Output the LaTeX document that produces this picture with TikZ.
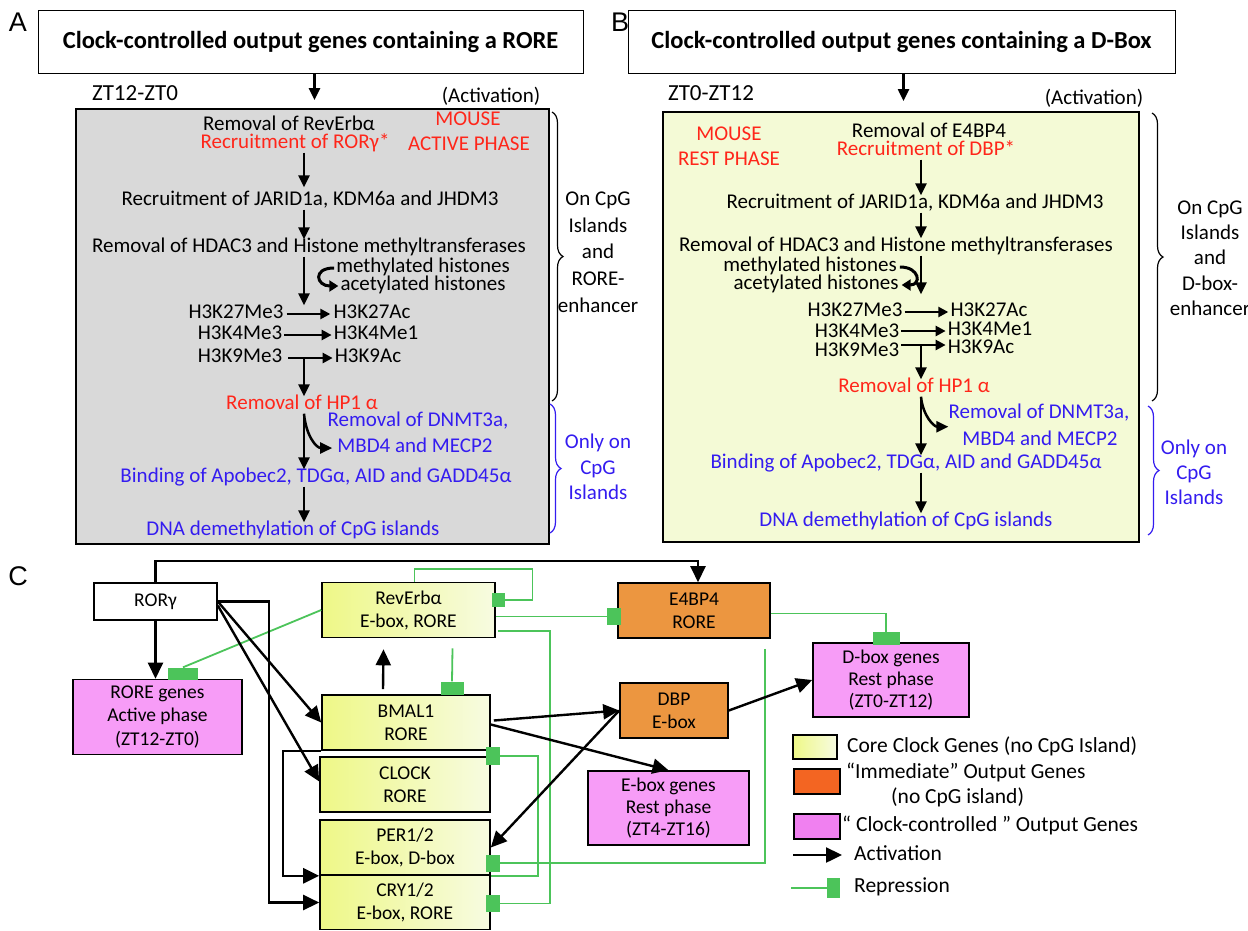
\documentclass[tikz,border=0pt]{standalone}
\usepackage{fontspec}
\setmainfont{Carlito}
\newfontfamily\arialf{Liberation Sans}
\usetikzlibrary{arrows.meta,calc,decorations.pathreplacing}
\definecolor{grayfill}{RGB}{217,217,217}
\definecolor{ygfill}{RGB}{244,250,214}
\definecolor{ylA}{RGB}{238,248,135}
\definecolor{ylB}{RGB}{247,251,225}
\definecolor{orfill}{RGB}{236,150,64}
\definecolor{pkfill}{RGB}{247,156,247}
\definecolor{gline}{RGB}{76,196,90}
\definecolor{redt}{RGB}{255,38,26}
\definecolor{bluet}{RGB}{52,28,240}
\definecolor{legor}{RGB}{243,101,34}
\definecolor{legpk}{RGB}{240,128,240}
\begin{document}
\begin{tikzpicture}[x=1pt,y=-1pt,
  ptxt/.style={font=\fontsize{21}{25}\selectfont, inner sep=0pt, text height=13pt, text depth=4pt},
  rtxt/.style={ptxt, text=redt},
  btxt/.style={ptxt, text=bluet},
  parr/.style={line width=2.5pt, -{Triangle[length=12pt,width=11pt]}},
  harr/.style={line width=2.4pt, -{Triangle[length=10pt,width=10pt]}},
  carr/.style={line width=3pt, -{Triangle[length=9pt,width=11pt]}},
  cbox/.style={draw, line width=1.6pt, align=center, inner sep=0pt, font=\fontsize{19.5}{23}\selectfont},
  ybox/.style={cbox, left color=ylA, right color=ylB},
  obox/.style={cbox, fill=orfill},
  pbox/.style={cbox, fill=pkfill},
  grn/.style={draw=gline, line width=1.8pt},
  gblk/.style={fill=gline, inner sep=0pt, draw=none},
  carrow/.style={line width=2.4pt, -{Triangle[length=16pt,width=15pt]}},
  ltxt/.style={font=\fontsize{21.5}{25}\selectfont, inner sep=0pt, anchor=west},
  brc/.style={decorate, decoration={brace, amplitude=11pt}, line width=1.2pt},
  ttl/.style={draw, line width=0.8pt, inner sep=0pt, font=\bfseries\fontsize{24.5}{28}\selectfont},
  plet/.style={font=\arialf\fontsize{27}{30}\selectfont, inner sep=0pt},
]
\useasboundingbox (0,0) rectangle (1248,930);
\fill[white] (0,0) rectangle (1248,930);

% ================= Panel A =================
\node[plet] (lA) at (18,22) {A};
\node[ttl, minimum width=545, minimum height=63] (tA) at (310.5,41.5) {Clock-controlled output genes containing a RORE};
\node[draw, line width=2pt, fill=grayfill, minimum width=473, minimum height=435, inner sep=0pt] (bA) at (312.5,326.5) {};
\draw[parr, shorten >=8pt] ([xshift=4pt]tA.south) -- ([xshift=4pt]tA.south |- bA.north);
\node[ptxt, font=\fontsize{23}{26}\selectfont] (zA) at (135,96) {ZT12-ZT0};
\node[ptxt] (actA) at (491,98) {(Activation)};
\coordinate (ax) at (304,0);
\node[ptxt] (a1) at (289,126) {Removal of RevErbα};
\node[rtxt] (a2) at (295,144) {Recruitment of RORγ*};
\node[rtxt] (amo) at (468,121) {MOUSE};
\node[rtxt] (aac) at (469,146) {ACTIVE PHASE};
\node[ptxt] (a3) at (310,201) {Recruitment of JARID1a, KDM6a and JHDM3};
\node[ptxt] (a4) at (309,248) {Removal of HDAC3 and Histone methyltransferases};
\node[ptxt] (a5) at (423,268) {methylated histones};
\node[ptxt] (a6) at (423,286) {acetylated histones};
\node[ptxt] (h1) at (236,314) {H3K27Me3};
\node[ptxt] (h1b) at (372,314) {H3K27Ac};
\node[ptxt] (h2) at (240,335) {H3K4Me3};
\node[ptxt] (h2b) at (376,335) {H3K4Me1};
\node[ptxt] (h3) at (240,358) {H3K9Me3};
\node[ptxt] (h3b) at (368,358) {H3K9Ac};
\node[rtxt] (a7) at (302,405) {Removal of HP1 α};
\node[btxt] (a8) at (418,422) {Removal of DNMT3a,};
\node[btxt] (a9) at (415,448) {MBD4 and MECP2};
\node[btxt] (a10) at (316,478) {Binding of Apobec2, TDGα, AID and GADD45α};
\node[btxt] (a11) at (293,531) {DNA demethylation of CpG islands};
\draw[parr, shorten >=5pt] (a2.south -| ax) -- (a3.north -| ax);
\draw[parr] (a3.south -| ax) -- (a4.north -| ax);
\draw[parr] (a4.south -| ax) -- (h1.north -| ax);
\draw[carr] ($(a5.west)+(-2,0)$) .. controls +(-22,0) and +(-22,0) .. ($(a6.west)+(-2,0)$);
\draw[harr, shorten <=3pt, shorten >=3pt] (h1.east) -- (h1b.west);
\draw[harr, shorten <=2pt, shorten >=2pt] (h2.east) -- (h2b.west);
\draw[harr, shorten <=6pt, shorten >=2pt] (h3.east) -- (h3b.west);
\draw[parr] (h3.east -| ax) -- (a7.north -| ax);
\draw[parr] (a7.south -| ax) -- (a10.north -| ax);
\draw[parr] (a7.south -| ax) .. controls +(2,22) and +(-16,0) .. ($(a9.west)+(-5,0)$);
\draw[parr] (a10.south -| ax) -- (a11.north -| ax);
% brackets A
\coordinate (brA1) at (552,112);
\coordinate (brA2) at (552,401);
\draw[brc] (brA1) -- (brA2);
\node[ptxt, align=center, font=\fontsize{21}{26.7}\selectfont, text height=, text depth=] (onA) at (598,252) {On CpG\\Islands\\and\\RORE-\\enhancer};
\coordinate (bbA1) at (550,404);
\coordinate (bbA2) at (550,533);
\draw[brc, bluet] (bbA1) -- (bbA2);
\node[ptxt, align=center, text=bluet, font=\fontsize{21}{25.5}\selectfont, text height=, text depth=] (olA) at (598,467) {Only on\\CpG\\Islands};

% ================= Panel B =================
\node[plet] (lB) at (620,22) {B};
\node[ttl, minimum width=547, minimum height=63] (tB) at (901.5,41.5) {Clock-controlled output genes containing a D-Box};
\node[draw, line width=2pt, fill=ygfill, minimum width=476, minimum height=430, inner sep=0pt] (bB) at (901,327) {};
\draw[parr, shorten >=10pt] ([xshift=2pt]tB.south) -- ([xshift=2pt]tB.south |- bB.north);
\node[ptxt, font=\fontsize{23}{26}\selectfont] (zB) at (711,96) {ZT0-ZT12};
\node[ptxt] (actB) at (1094,100) {(Activation)};
\coordinate (bx) at (921,0);
\node[rtxt] (bmo) at (729,136) {MOUSE};
\node[rtxt] (bre) at (729,161) {REST PHASE};
\node[ptxt] (b1) at (929,133) {Removal of E4BP4};
\node[rtxt] (b2) at (926,151) {Recruitment of DBP*};
\node[ptxt] (b3) at (915,204) {Recruitment of JARID1a, KDM6a and JHDM3};
\node[ptxt] (b4) at (896,247) {Removal of HDAC3 and Histone methyltransferases};
\node[ptxt] (b5) at (810,267) {methylated histones};
\node[ptxt] (b6) at (816,285) {acetylated histones};
\node[ptxt] (bh1) at (855,312) {H3K27Me3};
\node[ptxt] (bh1b) at (989,312) {H3K27Ac};
\node[ptxt] (bh2) at (857,333) {H3K4Me3};
\node[ptxt] (bh2b) at (990,331) {H3K4Me1};
\node[ptxt] (bh3) at (857,352) {H3K9Me3};
\node[ptxt] (bh3b) at (981,349) {H3K9Ac};
\node[rtxt] (b7) at (914,388) {Removal of HP1 α};
\node[btxt] (b8) at (1039,414) {Removal of DNMT3a,};
\node[btxt] (b9) at (1040,441) {MBD4 and MECP2};
\node[btxt] (b10) at (906,464) {Binding of Apobec2, TDGα, AID and GADD45α};
\node[btxt] (b11) at (906,522) {DNA demethylation of CpG islands};
\draw[parr] (b2.south -| bx) -- (b3.north -| bx);
\draw[parr] (b3.south -| bx) -- (b4.north -| bx);
\draw[parr, shorten >=9pt] (b4.south -| bx) -- (bh1.north -| bx);
\draw[carr] ($(b5.east)+(3,0)$) .. controls +(20,0) and +(20,0) .. ($(b6.east)+(3,0)$);
\draw[harr, shorten <=2pt, shorten >=2pt] (bh1.east) -- (bh1b.west);
\draw[harr, shorten <=2pt, shorten >=2pt] (bh2.east |- bh2b.west) -- (bh2b.west);
\draw[harr, shorten <=2pt, shorten >=2pt] ($(bh3.east |- bh3b.west)+(0,-4)$) -- ($(bh3b.west)+(0,-4)$);
\draw[parr] ($(bh3b.west -| bx)+(0,-4)$) -- (b7.north -| bx);
\draw[parr] (b7.south -| bx) -- (b10.north -| bx);
\draw[parr] (b7.south -| bx) .. controls +(2,20) and +(-14,0) .. ($(b8.south west)+(0,4)$);
\draw[parr] (b10.south -| bx) -- (b11.north -| bx);
\coordinate (brB1) at (1152,113);
\coordinate (brB2) at (1152,401);
\draw[brc] (brB1) -- (brB2);
\node[ptxt, align=center, font=\fontsize{21}{25.3}\selectfont, text height=, text depth=] (onB) at (1210,258) {On CpG\\Islands\\and\\D-box-\\enhancer};
\coordinate (bbB1) at (1148,406);
\coordinate (bbB2) at (1148,535);
\draw[brc, bluet] (bbB1) -- (bbB2);
\node[ptxt, align=center, text=bluet, font=\fontsize{21}{25}\selectfont, text height=, text depth=] (olB) at (1194,472) {Only on\\CpG\\Islands};

% ================= Panel C =================
\node[plet] (lC) at (18,576) {C};
\node[cbox, fill=white, minimum width=123, minimum height=37] (ror) at (155.5,601.5) {RORγ};
\node[pbox, minimum width=169, minimum height=75, font=\fontsize{19.5}{23.5}\selectfont] (rore) at (157.5,717) {RORE genes\\Active phase\\(ZT12-ZT0)};
\node[ybox, minimum width=173, minimum height=55] (rev) at (408.5,610) {RevErbα\\E-box, RORE};
\node[ybox, minimum width=168, minimum height=55] (bmal) at (406,722.5) {BMAL1\\RORE};
\node[ybox, minimum width=170, minimum height=55] (clk) at (405,784.5) {CLOCK\\RORE};
\node[ybox, minimum width=170, minimum height=55] (per) at (405,847.5) {PER1/2\\E-box, D-box};
\node[ybox, minimum width=170, minimum height=54] (cry) at (405,902.5) {CRY1/2\\E-box, RORE};
\node[obox, minimum width=152, minimum height=55] (e4) at (694,610.5) {E4BP4\\RORE};
\node[obox, minimum width=108, minimum height=55] (dbp) at (674,710.5) {DBP\\E-box};
\node[pbox, minimum width=156, minimum height=74, font=\fontsize{19.5}{22}\selectfont] (dbox) at (891,680) {D-box genes\\Rest phase\\(ZT0-ZT12)};
\node[pbox, minimum width=161, minimum height=74, font=\fontsize{19.5}{22}\selectfont] (ebox) at (668.5,808) {E-box genes\\Rest phase\\(ZT4-ZT16)};

% repression blocks
\node[gblk, minimum width=30, minimum height=12] (g1) at (183,673.5) {};
\node[gblk, minimum width=13, minimum height=14] (g2) at (498.5,600) {};
\node[gblk, minimum width=14, minimum height=17] (g3) at (614,616.5) {};
\node[gblk, minimum width=14, minimum height=17] (g4) at (493,863) {};
\node[gblk, minimum width=23, minimum height=13] (g5) at (452,688) {};
\node[gblk, minimum width=14, minimum height=18] (g6) at (493,756) {};
\node[gblk, minimum width=14, minimum height=17] (g7) at (493,903.5) {};
\node[gblk, minimum width=27, minimum height=13] (g8) at (886,638.5) {};

% green repression lines
\draw[grn] (rev.west) -- (g1.north);
\draw[grn] ($(rev.north)+(6,0)$) -- ++(0,-13) -- ++(118,0) |- (g2.east);
\draw[grn] ($(rev.east)+(0,6.5)$) -- (g3.west);
\draw[grn] ($(rev.south east)+(2,-7)$) -| ($(g7.east)+(50,0)$) -- (g7.east);
\draw[grn] ($(rev.south)+(44,10)$) -- (g5.north);
\draw[grn] (g6.east) -| ($(per.south east)+(47,0)$) -- (per.south east);
\draw[grn] ($(e4.south)+(71,10)$) |- (g4.east);
\draw[grn] ($(e4.east)+(0,3)$) -| (g8.north);

% activation arrows
\draw[carrow] (ror.north) -- ++(0,-21) -| ([xshift=4pt]e4.north);
\draw[carrow] (ror.south) -- (ror.south |- rore.north);
\draw[carrow] (ror.east) -- (bmal.west);
\draw[carrow] ($(ror.east)+(0,4)$) -- ($(clk.west)+(0,-3)$);
\draw[carrow] (ror.east) -- ($(ror.east)+(51,0)$) |- (cry.west);
\draw[carrow] (bmal.south west) -- ++(-38,0) |- (per.south west);
\draw[carrow] ([xshift=-23pt,yshift=5pt]bmal.north) -- ([xshift=-25pt,yshift=-11pt]rev.south);
\draw[carrow] ($(bmal.east)+(3,-2)$) -- (dbp.west);
\draw[carrow] ($(bmal.east)+(0,2)$) -- (ebox.north);
\draw[carrow] (dbp.west) -- (per.east);
\draw[carrow] (dbp.east) -- (dbox.west);

% legend
\node[draw, line width=1.2pt, left color=ylA, right color=ylB, minimum width=44, minimum height=24, inner sep=0] (ly) at (815,747) {};
\node[draw, line width=1.2pt, fill=legor, minimum width=46, minimum height=25, inner sep=0] (lo) at (817,781.5) {};
\node[draw, line width=1.2pt, fill=legpk, minimum width=46, minimum height=25, inner sep=0] (lp) at (817,826.5) {};
\node[ltxt] (lyt) at (847,746) {Core Clock Genes (no CpG Island)};
\node[ltxt] (lot) at (846,772) {“Immediate” Output Genes};
\node[ltxt] (lot2) at (891,797) {(no CpG island)};
\node[ltxt] (lpt) at (842,825) {“ Clock-controlled ” Output Genes};
\coordinate (la1) at (793,855);
\coordinate (la2) at (842,855);
\draw[carrow] (la1) -- (la2);
\node[ltxt] (lat) at (854,853) {Activation};
\node[gblk, minimum width=13, minimum height=20] (lr) at (833.5,888) {};
\coordinate (lr0) at (791,888);
\draw[grn] (lr0) -- (lr.west);
\node[ltxt] (lrt) at (854,887) {Repression};
\end{tikzpicture}
\end{document}
